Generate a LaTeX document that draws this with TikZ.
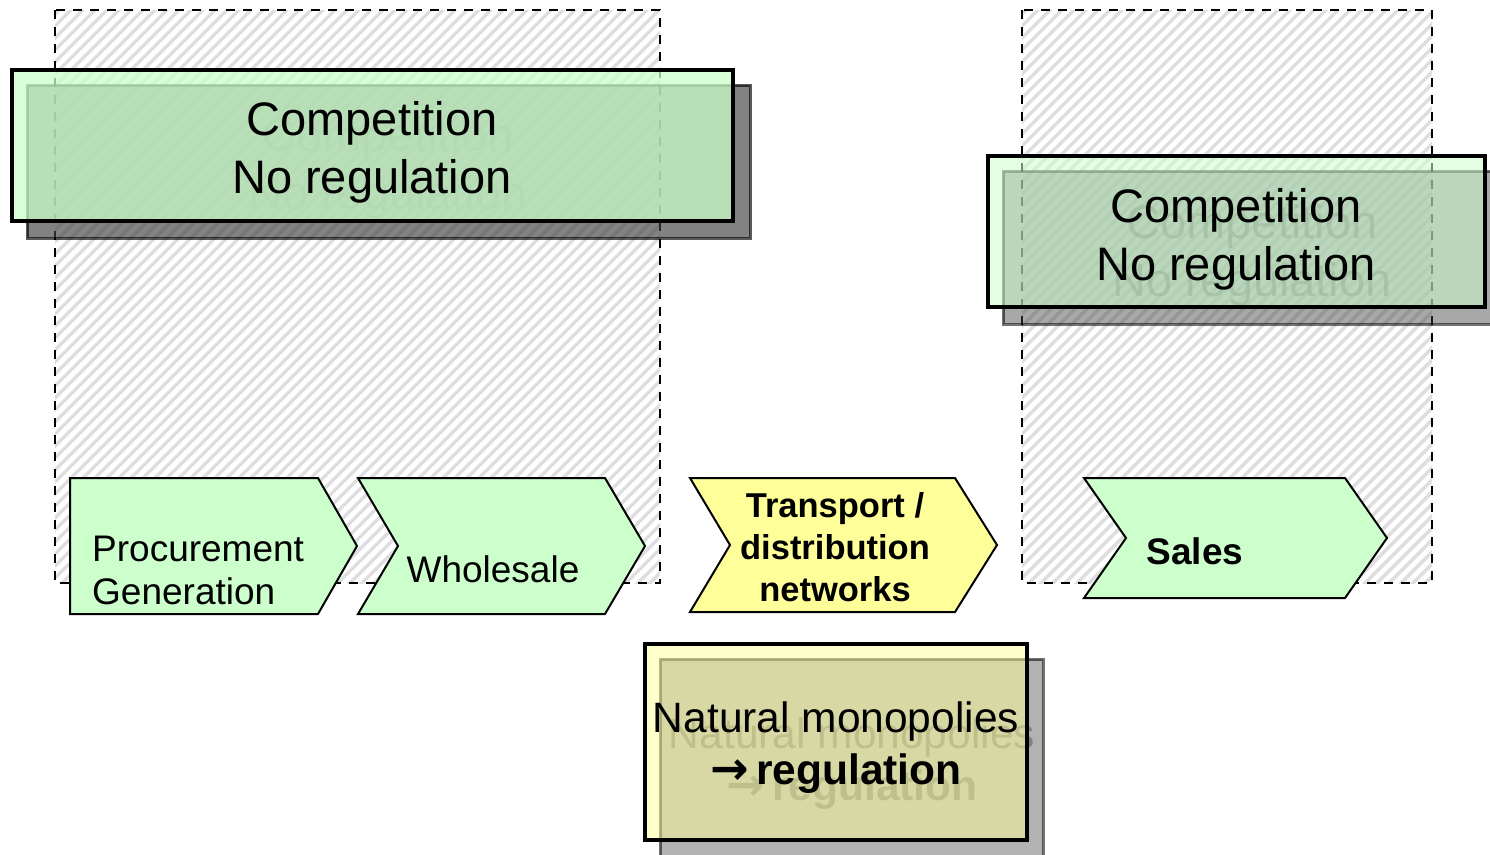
\documentclass[tikz,border=0pt]{standalone}
\usepackage{fontspec}
\setmainfont{Liberation Sans}
\newfontfamily\arrowfont{DejaVu Sans}
\definecolor{chgreen}{HTML}{CCFFCC}
\definecolor{chyellow}{HTML}{FFFF99}
\definecolor{hatchgray}{HTML}{DEDEDE}
\newcommand{\thickarrow}{{\arrowfont\bfseries\fontsize{46}{52}\selectfont →}}
\begin{document}
\begin{tikzpicture}[x=1pt,y=-1pt,
  zone/.style={draw=black, line width=2.4pt, dash pattern=on 9pt off 8pt},
  hatchline/.style={draw=hatchgray, line width=3.5pt},
  chev/.style={draw=black, line width=2pt, line join=miter},
  boxline/.style={draw=black, line width=4.5pt, line join=miter},
  bigtxt/.style={font=\fontsize{47}{58}\selectfont, align=center, inner sep=0pt},
  chevtxt/.style={font=\fontsize{37}{43}\selectfont, inner sep=0pt},
  chevbold/.style={font=\bfseries\fontsize{34.5}{42}\selectfont, align=center, inner sep=0pt},
  montxt/.style={font=\fontsize{42.5}{52}\selectfont, align=center, inner sep=0pt},
  ghost/.style={text=black!60, text opacity=0.65}
]
\useasboundingbox (0,0) rectangle (1490,854);
\fill[white] (0,0) rectangle (1490,854);

% hatched dashed zones
\begin{scope}
  \clip (55,10) rectangle (660,583);
  \foreach \k in {0,...,100} \draw[hatchline] ({55-600+\k*12},590) -- ++(600,-600);
\end{scope}
\draw[zone] (55,10) rectangle (660,583);
\begin{scope}
  \clip (1022,10) rectangle (1432,583);
  \foreach \k in {0,...,85} \draw[hatchline] ({1022-600+\k*12},590) -- ++(600,-600);
\end{scope}
\draw[zone] (1022,10) rectangle (1432,583);

% chevrons
\draw[chev, fill=chgreen] (70,478) -- (318,478) -- (357,546) -- (318,614) -- (70,614) -- cycle;
\draw[chev, fill=chgreen] (358,478) -- (605,478) -- (645,546) -- (605,614) -- (358,614) -- (398,546) -- cycle;
\draw[chev, fill=chyellow] (690,478) -- (955,478) -- (997,545) -- (955,612) -- (690,612) -- (730,545) -- cycle;
\draw[chev, fill=chgreen] (1084,478) -- (1345,478) -- (1387,538) -- (1345,598) -- (1084,598) -- (1126,538) -- cycle;

\node[chevtxt, align=left, anchor=west] (proc) at (92,570) {Procurement\\Generation};
\node[chevtxt] (whole) at (493,569) {Wholesale};
\node[chevbold] (trans) at (835,547) {Transport /\\distribution\\networks};
\node[chevtxt, font=\bfseries\fontsize{37}{43}\selectfont] (sales) at (1195,551) {Sales};

% shadows with ghost text
\draw[fill=black!75, fill opacity=0.65, draw=black, draw opacity=0.65, line width=3pt] (27,85) rectangle (750,238);
\node[bigtxt, ghost] (tlghost) at (388,168) {Competition\\No regulation};
\draw[fill=black!75, fill opacity=0.45, draw=black, draw opacity=0.55, line width=3pt] (1003,171) rectangle (1510,324);
\node[bigtxt, ghost] (rghost) at (1252,255) {Competition\\No regulation};
\draw[fill=black!75, fill opacity=0.4, draw=black, draw opacity=0.55, line width=3pt] (660,659) rectangle (1043,880);
\node[montxt, ghost] (bghost) at (852,764) {Natural monopolies\\\thickarrow\,\textbf{regulation}};

% front boxes
\fill[chgreen, fill opacity=0.75] (12,70) rectangle (733,221);
\draw[boxline] (12,70) rectangle (733,221);
\node[bigtxt] (tl) at (372,152) {Competition\\No regulation};

\fill[chgreen, fill opacity=0.55] (988,156) rectangle (1485,307);
\draw[boxline] (988,156) rectangle (1485,307);
\node[bigtxt] (r) at (1236,239) {Competition\\No regulation};

\fill[chyellow, fill opacity=0.5] (645,644) rectangle (1027,840);
\draw[boxline] (645,644) rectangle (1027,840);
\node[montxt] (b) at (836,748) {Natural monopolies\\\thickarrow\,\textbf{regulation}};
\end{tikzpicture}
\end{document}
